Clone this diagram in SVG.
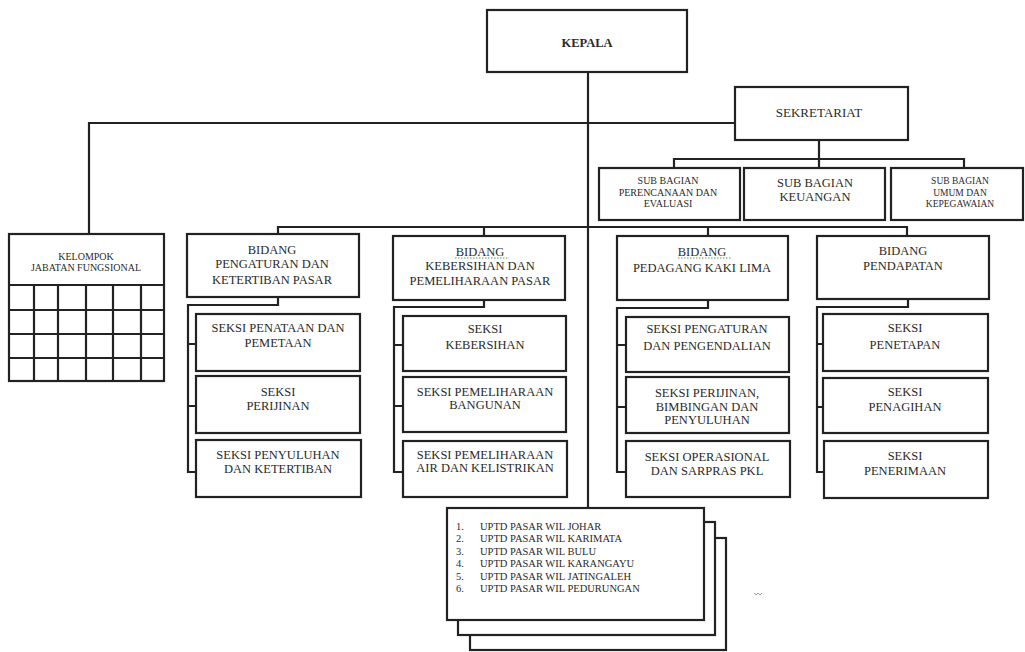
<svg xmlns="http://www.w3.org/2000/svg" width="1025" height="652" viewBox="0 0 1025 652">
<style>
.box{fill:#fff;stroke:#222;stroke-width:2.2}
.ln{fill:none;stroke:#222;stroke-width:2.2}
.t{font-family:"Liberation Serif","Times New Roman",serif;fill:#2a2a2a;text-anchor:middle}
.m{font-size:12.5px}
.s{font-size:10px}
.u{font-size:10.5px;text-anchor:start}
.sq{fill:none;stroke:#5a9a5a;stroke-width:1;stroke-dasharray:1.5 1.5}
</style>
<rect width="1025" height="652" fill="#fff"/>
<g id="connectors">
<path class="ln" d="M588 72V508"/>
<path class="ln" d="M89 234V123H735"/>
<path class="ln" d="M819 140V159M674 168V159H964V168M819 159V168"/>
<path class="ln" d="M278 234V227H907V236M484 227V236M708 227V236"/>
<path class="ln" d="M278 297V305H188V472H196M188 344H196M188 406H196"/>
<path class="ln" d="M484 300V307H394V472H403M394 345H403M394 406H403"/>
<path class="ln" d="M708 300V308H617V472H626M617 345H626M617 407H626"/>
<path class="ln" d="M908 299V307H817V472H823M817 344H823M817 407H823"/>
</g>
<g id="kepala"><rect class="box" x="487" y="10" width="200" height="62"/><text class="t m" x="587" y="47" font-weight="bold">KEPALA</text></g>
<g id="sekretariat"><rect class="box" x="735" y="87" width="173" height="53"/><text class="t" x="819" y="117" font-size="13">SEKRETARIAT</text></g>
<g id="sub-perencanaan"><rect class="box" x="599" y="168" width="141" height="52"/><text class="t s" x="668" y="184">SUB BAGIAN</text><text class="t s" x="668" y="196">PERENCANAAN DAN</text><text class="t s" x="668" y="207">EVALUASI</text></g>
<g id="sub-keuangan"><rect class="box" x="744" y="168" width="141" height="52"/><text class="t m" x="815" y="187">SUB BAGIAN</text><text class="t m" x="815" y="201">KEUANGAN</text></g>
<g id="sub-umum"><rect class="box" x="891" y="168" width="132" height="52"/><text class="t" font-size="9.5" x="960" y="184">SUB BAGIAN</text><text class="t" font-size="9.5" x="960" y="196">UMUM DAN</text><text class="t" font-size="9.5" x="960" y="207">KEPEGAWAIAN</text></g>
<g id="kelompok">
<rect class="box" x="9" y="234" width="155" height="147"/>
<path class="ln" d="M9 285H164M9 310H164M9 334H164M9 358H164M34 285V381M58 285V381M86 285V381M113 285V381M141 285V381"/>
<text class="t s" x="86" y="260">KELOMPOK</text><text class="t s" x="86" y="271">JABATAN FUNGSIONAL</text>
</g>
<g id="bidang-pengaturan"><rect class="box" x="187" y="234" width="172" height="63"/><text class="t m" x="272" y="254">BIDANG</text><text class="t m" x="272" y="268">PENGATURAN DAN</text><text class="t m" x="272" y="284">KETERTIBAN PASAR</text></g>
<g id="bidang-kebersihan"><rect class="box" x="393" y="236" width="172" height="64"/><text class="t m" x="480" y="256">BIDANG</text><path class="sq" d="M455 258H508"/><text class="t m" x="480" y="270">KEBERSIHAN DAN</text><text class="t m" x="480" y="285">PEMELIHARAAN PASAR</text></g>
<g id="bidang-pkl"><rect class="box" x="617" y="236" width="171" height="64"/><text class="t m" x="702" y="256">BIDANG</text><path class="sq" d="M678 258H732"/><text class="t m" x="702" y="272">PEDAGANG KAKI LIMA</text></g>
<g id="bidang-pendapatan"><rect class="box" x="817" y="236" width="172" height="63"/><text class="t m" x="903" y="255">BIDANG</text><text class="t m" x="903" y="270">PENDAPATAN</text></g>
<g id="seksi-penataan"><rect class="box" x="196" y="314" width="164" height="57"/><text class="t m" x="278" y="332">SEKSI PENATAAN DAN</text><text class="t m" x="278" y="347">PEMETAAN</text></g>
<g id="seksi-perijinan"><rect class="box" x="196" y="376" width="164" height="57"/><text class="t m" x="278" y="396">SEKSI</text><text class="t m" x="278" y="410">PERIJINAN</text></g>
<g id="seksi-penyuluhan"><rect class="box" x="196" y="440" width="165" height="57"/><text class="t m" x="278" y="459">SEKSI PENYULUHAN</text><text class="t m" x="278" y="473">DAN KETERTIBAN</text></g>
<g id="seksi-kebersihan"><rect class="box" x="403" y="316" width="163" height="55"/><text class="t m" x="485" y="333">SEKSI</text><text class="t m" x="485" y="349">KEBERSIHAN</text></g>
<g id="seksi-bangunan"><rect class="box" x="403" y="377" width="163" height="55"/><text class="t m" x="485" y="396">SEKSI PEMELIHARAAN</text><text class="t m" x="485" y="409">BANGUNAN</text></g>
<g id="seksi-air"><rect class="box" x="403" y="441" width="164" height="56"/><text class="t m" x="485" y="459">SEKSI PEMELIHARAAN</text><text class="t m" x="485" y="472">AIR DAN KELISTRIKAN</text></g>
<g id="seksi-pengaturan"><rect class="box" x="626" y="317" width="163" height="55"/><text class="t m" x="707" y="333">SEKSI PENGATURAN</text><text class="t m" x="707" y="350">DAN PENGENDALIAN</text></g>
<g id="seksi-perijinan-pkl"><rect class="box" x="626" y="377" width="163" height="56"/><text class="t m" x="707" y="397">SEKSI PERIJINAN,</text><text class="t m" x="707" y="411">BIMBINGAN DAN</text><text class="t m" x="707" y="424">PENYULUHAN</text></g>
<g id="seksi-operasional"><rect class="box" x="626" y="441" width="164" height="56"/><text class="t m" x="707" y="461">SEKSI OPERASIONAL</text><text class="t m" x="707" y="475">DAN SARPRAS PKL</text></g>
<g id="seksi-penetapan"><rect class="box" x="823" y="314" width="165" height="57"/><text class="t m" x="905" y="332">SEKSI</text><text class="t m" x="905" y="349">PENETAPAN</text></g>
<g id="seksi-penagihan"><rect class="box" x="823" y="378" width="165" height="55"/><text class="t m" x="905" y="396">SEKSI</text><text class="t m" x="905" y="411">PENAGIHAN</text></g>
<g id="seksi-penerimaan"><rect class="box" x="824" y="441" width="164" height="57"/><text class="t m" x="905" y="460">SEKSI</text><text class="t m" x="905" y="475">PENERIMAAN</text></g>
<g id="uptd">
<rect class="box" x="470" y="538" width="256" height="112"/>
<rect class="box" x="458" y="522" width="257" height="113"/>
<rect class="box" x="447" y="508" width="257" height="112"/>
<text class="t u" x="456" y="530">1.</text><text class="t u" x="480" y="530">UPTD PASAR  WIL JOHAR</text>
<text class="t u" x="456" y="542">2.</text><text class="t u" x="480" y="542">UPTD PASAR  WIL KARIMATA</text>
<text class="t u" x="456" y="555">3.</text><text class="t u" x="480" y="555">UPTD PASAR  WIL BULU</text>
<text class="t u" x="456" y="567">4.</text><text class="t u" x="480" y="567">UPTD PASAR  WIL KARANGAYU</text>
<text class="t u" x="456" y="580">5.</text><text class="t u" x="480" y="580">UPTD PASAR  WIL JATINGALEH</text>
<text class="t u" x="456" y="592">6.</text><text class="t u" x="480" y="592">UPTD PASAR  WIL PEDURUNGAN</text>
</g>
<path d="M754 593l2 2 2-2 2 2 2-2" fill="none" stroke="#888" stroke-width="0.8"/>
</svg>
